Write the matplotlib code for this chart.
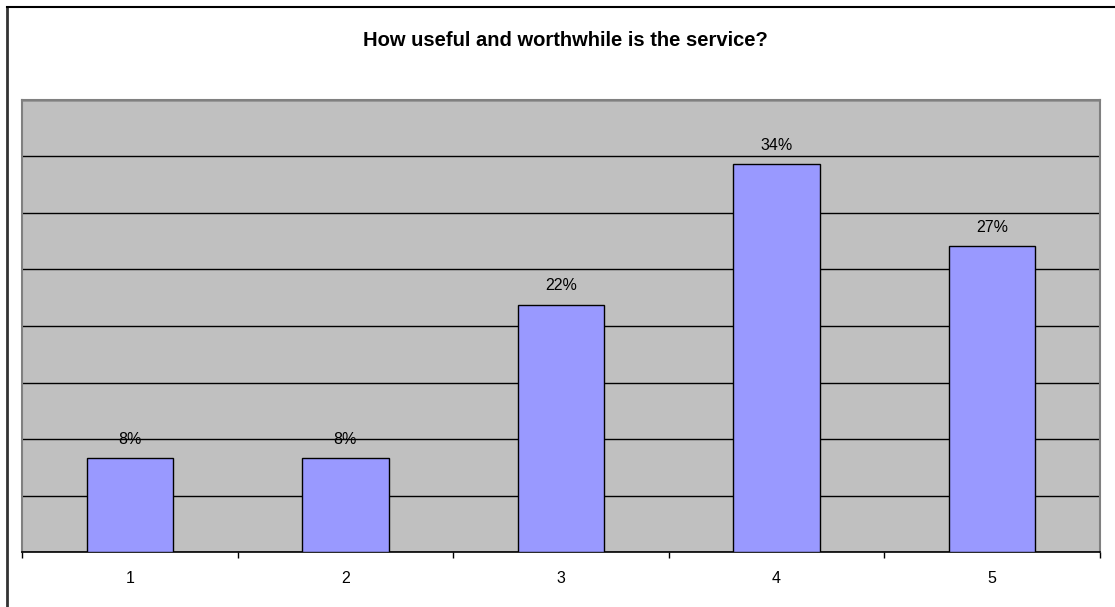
import matplotlib.pyplot as plt
from matplotlib.lines import Line2D
from matplotlib.ticker import MultipleLocator, FixedLocator

# survey answers (share of respondents)
categories = ['1', '2', '3', '4', '5']
shares = [0.083, 0.083, 0.219, 0.343, 0.271]
title = 'How useful and worthwhile is the service?'

plt.rcParams['font.family'] = ['Liberation Sans', 'DejaVu Sans']

W, H = 1115, 607
fig = plt.figure(figsize=(W / 100, H / 100), dpi=100)
fig.patch.set_facecolor('white')

# plot area in pixels: x 22..1100, y 100..552
ax = fig.add_axes([22 / W, 1 - 552 / H, (1100 - 22) / W, (552 - 100) / H])
ax.set_facecolor('#C0C0C0')

x = list(range(len(categories)))
bars = ax.bar(x, shares, width=0.4, color='#9999FF', edgecolor='black', linewidth=1, zorder=3)

for xi, v in zip(x, shares):
    ax.annotate('%d%%' % round(v * 100), (xi, v), xytext=(0, 8), textcoords='offset points',
                ha='center', va='bottom', fontsize=11.5)

ax.set_xlim(-0.5, len(categories) - 0.5)
ax.set_ylim(0, 0.40)

# horizontal gridlines
ax.yaxis.set_major_locator(MultipleLocator(0.05))
ax.grid(axis='y', color='black', linewidth=1, zorder=1)
ax.set_axisbelow(True)
ax.tick_params(axis='y', length=0, labelleft=False)

ax.set_xticks(x)
ax.set_xticklabels(categories, fontsize=11.5)
ax.xaxis.set_minor_locator(FixedLocator([i - 0.5 for i in range(len(categories) + 1)]))
ax.tick_params(axis='x', which='major', length=0, pad=14)
ax.tick_params(axis='x', which='minor', length=4, width=1, direction='out', color='black')

for side in ['left', 'top', 'right']:
    ax.spines[side].set_color('#808080')
    ax.spines[side].set_linewidth(1.5)
ax.spines['bottom'].set_color('black')
ax.spines['bottom'].set_linewidth(1.2)

fig.text(565 / W, 1 - 40 / H, title, ha='center', va='center', fontsize=14.5, fontweight='bold')

# outer chart border (left and top visible)
fig.add_artist(Line2D([7 / W, 7 / W], [0, 1 - 7 / H], color='#333333', linewidth=2))
fig.add_artist(Line2D([7 / W, 1], [1 - 7 / H, 1 - 7 / H], color='black', linewidth=1.5))

fig.savefig('out.png', dpi=100)
